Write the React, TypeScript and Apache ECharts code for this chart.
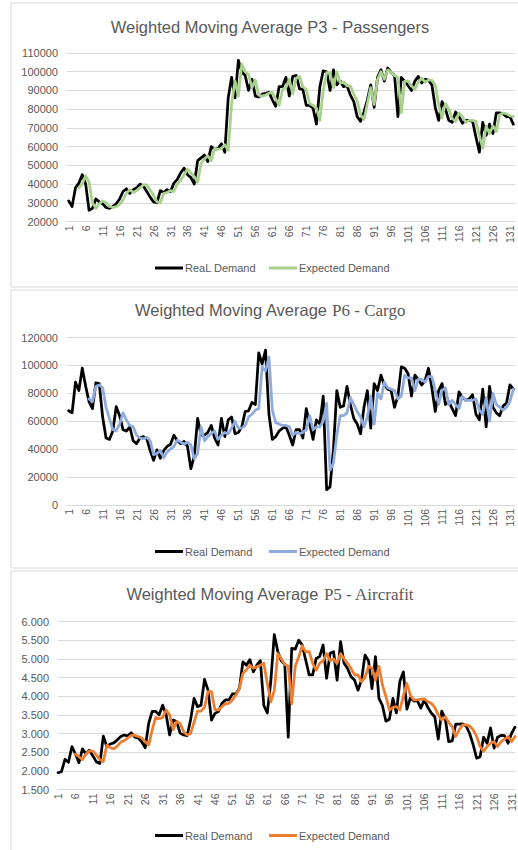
import React, { useEffect, useRef } from 'react';
import * as echarts from 'echarts';

// ---------- data ----------
const categories: string[] = Array.from({ length: 132 }, (_, i) => String(i + 1));

const passengersReal = [
  31000, 28000, 38000, 40500, 45000, 40000, 26000, 27000, 32000, 30500,
  29500, 27500, 27000, 28000, 29500, 32000, 36000, 37500, 35000, 37000,
  38000, 40000, 39000, 36000, 33000, 30500, 30000, 36500, 35500, 37000,
  36000, 40500, 42500, 46000, 48500, 45000, 43500, 40000, 52500, 54000,
  55500, 52000, 60000, 58500, 59000, 61500, 57000, 86000, 97000, 86000,
  106000, 100000, 98000, 90000, 96000, 87000, 86500, 88000, 88500, 89000,
  85000, 81500, 92000, 92000, 97000, 87000, 97500, 98000, 91000, 90500,
  82000, 82000, 80500, 72000, 92000, 100500, 100000, 90000, 101000, 93000,
  95000, 92000, 92500, 87500, 84000, 76000, 73500, 78500, 85000, 93000,
  81000, 97000, 101000, 95000, 102000, 99500, 98000, 76000, 97000, 95000,
  92500, 90000, 95000, 97500, 94000, 96000, 95500, 93000, 81000, 74000,
  84000, 80000, 74000, 73000, 78500, 76000, 72500, 74000, 74000, 73500,
  65000, 57000, 73000, 66000, 72000, 67000, 78000, 78000, 77500, 76000,
  76000, 72000,
];
const passengersExpected = [
  null, null, null, 38000, 40000, 44500, 41000, 30000, 27000, 29500,
  31000, 30000, 28000, 27500, 28000, 29000, 31500, 35000, 37000, 35500,
  36500, 38000, 39500, 39500, 37000, 34000, 30500, 30000, 35000, 35500,
  36500, 36000, 40000, 42000, 45000, 48000, 46000, 44000, 41000, 51000,
  53500, 55000, 52500, 59000, 58500, 59000, 61000, 58000, 83000, 95000,
  87000, 104000, 100000, 98500, 91500, 95500, 87500, 87000, 87500, 88500,
  89000, 85500, 82000, 90500, 91500, 96000, 88000, 96500, 97500, 92000,
  90500, 83000, 82000, 80500, 74000, 90000, 99500, 99500, 91500, 100000,
  94000, 94500, 92500, 92500, 88000, 84500, 77000, 74500, 83000, 91500,
  82500, 96000, 100000, 96000, 101000, 99500, 98000, 97000, 78000, 95000,
  95000, 92500, 90500, 94500, 96500, 94500, 95500, 95500, 93000, 82500,
  75500, 83000, 80000, 75000, 73500, 78000, 76000, 73000, 74000, 74000,
  73500, 66000, 59000, 71000, 67000, 71000, 68000, 77000, 78000, 77500,
  76500, 76000,
];

const cargoReal = [
  67500, 66000, 88000, 82000, 98000, 85000, 74000, 69000, 87500, 87000,
  63000, 48000, 47000, 53000, 70500, 64000, 54000, 53000, 56000, 46000,
  44000, 48000, 49000, 47500, 39000, 32000, 39500, 33500, 39000, 42000,
  43500, 50000, 46000, 44000, 45500, 42000, 26000, 35000, 62000, 50000,
  50000, 52000, 57000, 48000, 43000, 62000, 49000, 61000, 63000, 51000,
  52000, 56000, 67000, 67500, 73500, 72000, 109000, 101000, 111000, 65000,
  47000, 49000, 53000, 55000, 56000, 50000, 43000, 54000, 54000, 48000,
  69000, 58000, 47000, 61000, 58000, 78000, 11000, 13000, 40000, 82000,
  70000, 71000, 85000, 72000, 62000, 58000, 51000, 70000, 82000, 55000,
  87000, 82000, 93000, 86000, 83000, 82000, 70000, 78000, 99000, 98000,
  94000, 78000, 93000, 90000, 86000, 89000, 98000, 84000, 67000, 82000,
  87000, 72000, 74000, 69000, 64000, 81000, 77000, 75000, 76000, 79000,
  65000, 61000, 83000, 56000, 85000, 70000, 66000, 64000, 71000, 73000,
  86000, 83000,
];
const cargoExpected = [
  null, null, null, null, null, null,
  76000, 74000, 85000, 86000, 84000, 70000, 62000, 54000, 53000, 58000,
  66000, 61000, 57000, 56000, 50000, 48000, 47500, 48500, 46000, 36000,
  37000, 39000, 34000, 38000, 40000, 42000, 46500, 45000, 43500, 45000,
  43000, 33000, 37000, 56000, 46000, 49000, 51000, 53000, 47000, 50000,
  52000, 51000, 55000, 60000, 55000, 55000, 57000, 63000, 65000, 68000,
  69000, 99000, 96000, 106000, 68000, 59000, 58000, 57000, 57000, 56000,
  50000, 52000, 51000, 52000, 54000, 64000, 54000, 56000, 56000, 60000,
  73000, 25000, 30000, 50000, 64000, 64000, 66000, 77000, 72000, 67000,
  63000, 56000, 63000, 78000, 58000, 80000, 76000, 88000, 84000, 83000,
  82000, 76000, 78000, 93000, 91000, 91000, 82000, 90000, 90000, 88000,
  92000, 92000, 82000, 72000, 82000, 84000, 72000, 75000, 72000, 69000,
  78000, 75000, 75000, 75000, 76000, 68000, 65000, 77000, 60000, 80000,
  72000, 70000, 68000, 70000, 74000, 83000,
];

const aircraftReal = [
  1950, 1980, 2310, 2230, 2650, 2450, 2220, 2590, 2450, 2550,
  2400, 2240, 2200, 2930, 2650, 2720, 2750, 2830, 2920, 2960,
  2930, 3020, 2900, 2880, 2780, 2620, 3270, 3590, 3590, 3500,
  3760, 3500, 2960, 3360, 3320, 3010, 2960, 2940, 3360, 3940,
  3720, 3760, 4450, 4160, 3360, 3540, 3590, 3810, 3900, 3900,
  4060, 4060, 4210, 4920, 4830, 4980, 4650, 4830, 4950, 3750,
  3550, 4400, 5650, 5200, 4950, 4850, 2900, 5280, 5260, 5500,
  5370, 4970, 4570, 4570, 5010, 5060, 5370, 4480, 5150, 5190,
  4430, 5460, 4880, 4740, 4520, 4430, 4160, 4430, 5100, 4950,
  4200, 5060, 3940, 3750, 3330, 3380, 3940, 3550, 4400, 4650,
  3650, 3950, 3870, 3880, 3680, 3900, 3700, 3550, 3450, 2850,
  3600, 3400, 2780, 2800, 3250, 3250, 3260, 3200, 3000, 2700,
  2340, 2380, 2900, 2740, 3150, 2610, 2900, 2950, 2940, 2740,
  3000, 3170,
];
const aircraftExpected = [
  null, null, null, null, null,
  2450, 2380, 2300, 2450, 2530, 2530, 2420, 2300, 2250, 2690,
  2620, 2590, 2660, 2770, 2810, 2880, 2950, 2950, 2920, 2880,
  2780, 2690, 3100, 3430, 3400, 3430, 3630, 3500, 3100, 3320,
  3270, 3050, 2960, 3000, 3300, 3600, 3600, 3700, 4120, 4120,
  3630, 3630, 3720, 3800, 3810, 3900, 4030, 4210, 4610, 4700,
  4830, 4750, 4790, 4830, 4880, 4340, 3850, 4150, 5140, 5000,
  4850, 4800, 3800, 4800, 5050, 5350, 5190, 5190, 4880, 4700,
  4880, 4950, 5140, 4950, 5000, 4880, 5140, 5000, 4880, 4740,
  4570, 4570, 4390, 4500, 4800, 4750, 4430, 4800, 4300, 3990,
  3630, 3700, 3720, 3630, 4000, 4340, 4030, 3900, 3900, 3920,
  3930, 3850, 3810, 3700, 3500, 3360, 3450, 3300, 3180, 2920,
  3100, 3230, 3230, 3200, 3100, 2920, 2650, 2520, 2650, 2740,
  2780, 2650, 2780, 2850, 2920, 2780, 2920,
];

const titles = [
  { sans: 'Weighted Moving Average P3 - Passengers', serif: '' },
  { sans: 'Weighted Moving Average ', serif: 'P6 - Cargo' },
  { sans: 'Weighted Moving Average ', serif: 'P5 - Aircrafit' },
];
const realNames = ['ReaL Demand', 'Real Demand', 'Real Demand'];
const expectedName = 'Expected Demand';

// ---------- style ----------
const SANS = '"Liberation Sans", Arial, sans-serif';
const SERIF = '"Liberation Serif", "Times New Roman", serif';
const TXT = '#595959';
const GRID = '#D9D9D9';
const expColors = ['#A9D18E', '#8FAADC', '#ED7D31'];

export default function App() {
  const ref = useRef<HTMLDivElement>(null);

  useEffect(() => {
    if (!ref.current) return;
    const chart = echarts.init(ref.current, undefined, { renderer: 'svg' });

    const grids = [
      { left: 67, top: 53, width: 448, height: 168.5 },
      { left: 67, top: 337.5, width: 448, height: 167.5 },
      { left: 58, top: 621.5, width: 457, height: 168 },
    ];
    const yCfg = [
      { min: 20000, max: 110000, interval: 10000, fmt: (v: number) => String(v) },
      { min: 0, max: 120000, interval: 20000, fmt: (v: number) => String(v) },
      { min: 1500, max: 6000, interval: 500, fmt: (v: number) => (v / 1000).toFixed(3) },
    ];
    const reals = [passengersReal, cargoReal, aircraftReal];
    const exps = [passengersExpected, cargoExpected, aircraftExpected];
    const titleY = [27, 310, 594];
    const legendY = [268, 551.5, 835.5];
    const panels = [
      { y: 3, h: 284 },
      { y: 290, h: 278 },
      { y: 571, h: 290 },
    ];

    const graphic: any[] = [];
    panels.forEach((p) => {
      graphic.push({
        type: 'rect',
        shape: { x: 11, y: p.y, width: 530, height: p.h },
        style: { fill: '#fff', stroke: GRID, lineWidth: 1 },
        z: -10,
        silent: true,
      });
    });
    titles.forEach((t, k) => {
      graphic.push({
        type: 'text',
        x: 270,
        y: titleY[k],
        style: {
          text: t.serif ? `{a|${t.sans}}{b|${t.serif}}` : `{a|${t.sans}}`,
          align: 'center',
          verticalAlign: 'middle',
          rich: {
            a: { fontFamily: SANS, fontSize: 16.5, fill: TXT, color: TXT },
            b: { fontFamily: SERIF, fontSize: 17, fill: TXT, color: TXT },
          },
        },
      });
    });
    legendY.forEach((ly, k) => {
      graphic.push(
        { type: 'line', shape: { x1: 155, y1: ly, x2: 183, y2: ly }, style: { stroke: '#000', lineWidth: 3 } },
        {
          type: 'text', x: 185, y: ly,
          style: { text: realNames[k], fontFamily: SANS, fontSize: 11, fill: TXT, verticalAlign: 'middle' },
        },
        { type: 'line', shape: { x1: 269, y1: ly, x2: 297, y2: ly }, style: { stroke: expColors[k], lineWidth: 3 } },
        {
          type: 'text', x: 299, y: ly,
          style: { text: expectedName, fontFamily: SANS, fontSize: 11, fill: TXT, verticalAlign: 'middle' },
        }
      );
    });

    const series: any[] = [];
    for (let k = 0; k < 3; k++) {
      series.push({
        type: 'line', name: realNames[k], data: reals[k], xAxisIndex: k, yAxisIndex: k,
        showSymbol: false, symbol: 'none',
        lineStyle: { color: '#000', width: 2.75, join: 'round', cap: 'round' },
        itemStyle: { color: '#000' },
        z: 2,
      });
      series.push({
        type: 'line', name: expectedName, data: exps[k], xAxisIndex: k, yAxisIndex: k,
        showSymbol: false, symbol: 'none',
        lineStyle: { color: expColors[k], width: 2.75, join: 'round', cap: 'round' },
        itemStyle: { color: expColors[k] },
        z: 3,
      });
    }

    chart.setOption({
      animation: false,
      backgroundColor: '#fff',
      grid: grids.map((g) => ({ ...g, containLabel: false })),
      xAxis: [0, 1, 2].map((k) => ({
        type: 'category',
        gridIndex: k,
        data: categories,
        boundaryGap: k !== 2,
        axisLine: { show: true, lineStyle: { color: GRID, width: 1 } },
        axisTick: { show: false },
        axisLabel: {
          interval: 4, rotate: 90, margin: 4, color: TXT, fontSize: 10.5, fontFamily: SANS,
        },
        splitLine: { show: false },
      })),
      yAxis: [0, 1, 2].map((k) => ({
        type: 'value',
        gridIndex: k,
        min: yCfg[k].min,
        max: yCfg[k].max,
        interval: yCfg[k].interval,
        axisLine: { show: false },
        axisTick: { show: false },
        axisLabel: { color: TXT, fontSize: 11, fontFamily: SANS, margin: 9, formatter: yCfg[k].fmt },
        splitLine: { show: true, lineStyle: { color: GRID, width: 1 } },
      })),
      graphic,
      series,
    });

    return () => chart.dispose();
  }, []);

  return (
    <div
      ref={ref}
      style={{ position: 'absolute', left: 0, top: 0, width: 518, height: 850, background: '#fff' }}
    />
  );
}
